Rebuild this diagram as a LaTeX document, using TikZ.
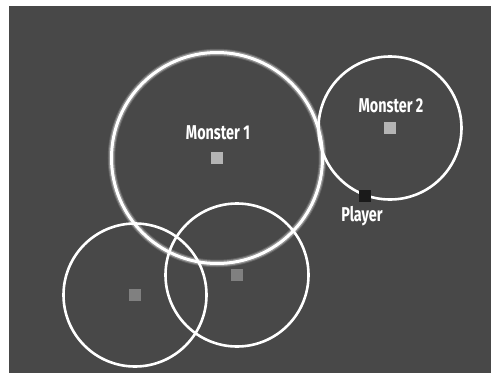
\documentclass[tikz,border=0pt]{standalone}
\usepackage{fontspec}
\newfontfamily\labelfont[FakeStretch=0.72]{Fira Sans}
\definecolor{bg}{HTML}{484848}
\definecolor{monster}{HTML}{B4B4B4}
\definecolor{dimmonster}{HTML}{808080}
\definecolor{playercol}{HTML}{1A1A1A}
\tikzset{
  rangering/.style={circle, draw=white, line width=2.6pt, inner sep=0pt, outer sep=0pt},
  glowring/.style={circle, draw=white, draw opacity=#1, inner sep=0pt, outer sep=0pt},
  token/.style={rectangle, inner sep=0pt, minimum size=12pt},
  tag/.style={text=white, font=\labelfont\bfseries\fontsize{20}{20}\selectfont, inner sep=0pt}
}
\begin{document}
\begin{tikzpicture}[x=1pt, y=-1pt]
\useasboundingbox (0,0) rectangle (491,373);
\fill[bg] (9,6) rectangle (491,373);
% monster positions
\node[token, fill=monster] (m1) at (217,158) {};
\node[token, fill=monster] (m2) at (390,128) {};
\node[token, fill=dimmonster] (m3) at (135,295) {};
\node[token, fill=dimmonster] (m4) at (237,275) {};
% detection ranges
\node[glowring=0.15, line width=7.5pt, minimum size=211pt] (g1) at (m1) {};
\node[glowring=0.3, line width=5.5pt, minimum size=211pt] (g2) at (m1) {};
\node[rangering, line width=3pt, minimum size=211pt] (r1) at (m1) {};
\node[rangering, minimum size=143pt] (r2) at (m2) {};
\node[rangering, minimum size=143pt] (r3) at (m3) {};
\node[rangering, minimum size=143pt] (r4) at (m4) {};
% player
\node[token, fill=playercol] (p) at (365,196) {};
% labels
\node[tag] (l1) at (218,133) {Monster 1};
\node[tag] (l2) at (391,106) {Monster 2};
\node[tag] (lp) at (362,216) {Player};
\end{tikzpicture}
\end{document}
